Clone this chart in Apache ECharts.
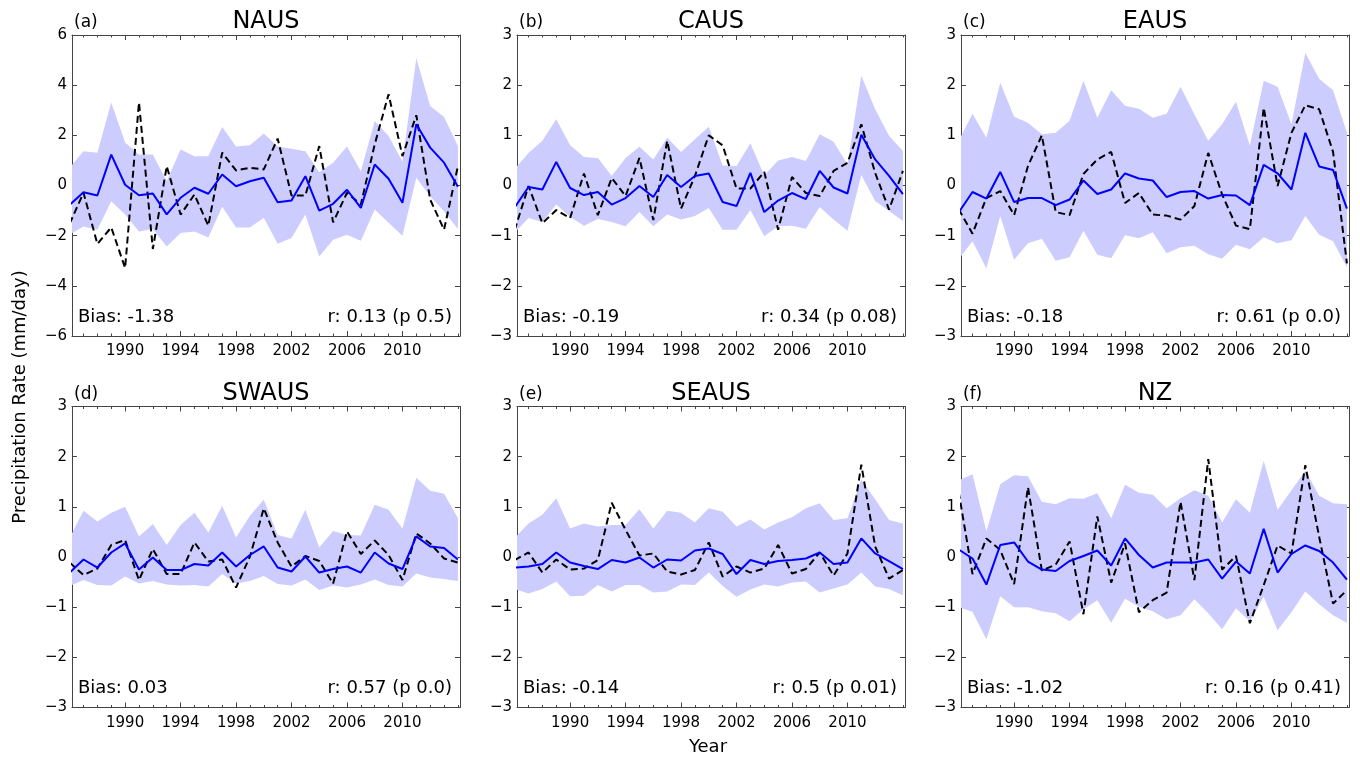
<!DOCTYPE html>
<html>
<head>
<meta charset="utf-8">
<title>Precipitation Rate</title>
<script src="https://cdn.jsdelivr.net/npm/echarts@6/dist/echarts.min.js"></script>
<style>
  html, body { margin: 0; padding: 0; background: #fff; }
  #chart { width: 1360px; height: 761px; }
</style>
</head>
<body>
<div id="chart"></div>
<script>
const years = [1986, 1987, 1988, 1989, 1990, 1991, 1992, 1993, 1994, 1995, 1996, 1997, 1998, 1999, 2000,
  2001, 2002, 2003, 2004, 2005, 2006, 2007, 2008, 2009, 2010, 2011, 2012, 2013, 2014];
const majorYears = [1990, 1994, 1998, 2002, 2006, 2010];

// NAUS
const nausModel = [-0.77, -0.27, -0.40, 1.23, 0.03, -0.39, -0.32, -1.15, -0.49, -0.09, -0.33, 0.44, -0.03, 0.17, 0.31,
  -0.67, -0.60, 0.37, -1.00, -0.73, -0.17, -0.89, 0.84, 0.27, -0.69, 2.44, 1.51, 0.91, -0.05];
const nausObs = [-1.52, -0.29, -2.33, -1.67, -3.29, 3.31, -2.53, 0.77, -1.16, -0.36, -1.60, 1.31, 0.60, 0.71, 0.64,
  1.87, -0.40, -0.40, 1.57, -1.47, -0.29, -0.76, 1.64, 3.64, 1.17, 2.80, -0.56, -1.76, 0.77];
const nausHi = [0.71, 1.37, 1.31, 3.31, 1.71, 1.24, 1.24, 0.17, 1.44, 1.17, 1.17, 2.33, 1.55, 1.60, 2.07,
  1.55, 1.47, 1.37, 0.53, 0.91, 1.55, 0.57, 2.57, 1.97, 0.95, 5.07, 3.17, 2.73, 1.57];
const nausLo = [-1.96, -1.63, -1.76, -0.63, -1.16, -1.83, -1.73, -2.43, -1.89, -1.83, -2.07, -0.85, -1.67, -1.67, -1.29,
  -2.32, -2.09, -1.16, -2.83, -2.16, -1.96, -2.20, -0.96, -1.49, -2.00, 0.31, -0.43, -1.03, -1.73];

// CAUS
const causModel = [-0.44, -0.03, -0.08, 0.47, -0.05, -0.19, -0.13, -0.38, -0.25, -0.01, -0.23, 0.21, -0.03, 0.19, 0.24,
  -0.33, -0.41, 0.25, -0.53, -0.30, -0.15, -0.27, 0.29, -0.04, -0.16, 1.01, 0.52, 0.19, -0.17];
const causObs = [-0.89, -0.01, -0.75, -0.49, -0.65, 0.24, -0.59, 0.15, -0.21, 0.55, -0.69, 0.89, -0.46, 0.19, 1.00,
  0.80, -0.06, -0.06, 0.27, -0.88, 0.17, -0.15, -0.21, 0.29, 0.45, 1.22, 0.25, -0.48, 0.29];
const causHi = [0.33, 0.65, 0.89, 1.32, 0.80, 0.57, 0.55, 0.19, 0.55, 0.77, 0.52, 0.95, 0.67, 0.92, 1.17,
  0.40, 0.39, 0.84, 0.20, 0.50, 0.57, 0.49, 1.02, 0.87, 0.42, 2.19, 1.52, 0.99, 0.69];
const causLo = [-0.94, -0.65, -0.73, -0.38, -0.63, -0.80, -0.67, -0.73, -0.81, -0.53, -0.81, -0.58, -0.68, -0.61, -0.45,
  -0.88, -0.88, -0.49, -1.01, -0.81, -0.80, -0.86, -0.43, -0.68, -0.90, 0.21, -0.31, -0.51, -0.71];

// EAUS
const eausModel = [-0.54, -0.13, -0.26, 0.27, -0.33, -0.25, -0.25, -0.39, -0.28, 0.10, -0.17, -0.08, 0.24, 0.14, 0.10,
  -0.23, -0.13, -0.11, -0.26, -0.19, -0.20, -0.39, 0.41, 0.24, -0.08, 1.05, 0.38, 0.31, -0.46];
const eausObs = [-0.47, -0.96, -0.25, -0.11, -0.59, 0.39, 1.00, -0.53, -0.59, 0.23, 0.52, 0.67, -0.35, -0.15, -0.58,
  -0.60, -0.68, -0.41, 0.65, -0.18, -0.80, -0.87, 1.55, -0.01, 1.05, 1.60, 1.52, 0.67, -1.55];
const eausHi = [0.89, 1.43, 0.95, 2.05, 1.37, 1.25, 1.02, 1.05, 1.29, 2.09, 1.35, 1.90, 1.59, 1.53, 1.35,
  1.43, 1.97, 1.42, 0.89, 1.22, 1.67, 0.79, 2.09, 1.97, 1.22, 2.64, 2.13, 1.90, 1.05];
const eausLo = [-1.47, -1.11, -1.65, -0.61, -1.48, -1.15, -1.06, -1.50, -1.43, -0.90, -1.38, -1.45, -0.99, -1.05, -0.93,
  -1.35, -1.23, -1.20, -1.37, -1.46, -1.18, -1.27, -1.03, -1.15, -1.09, -0.61, -0.98, -1.11, -1.63];

// SWAUS
const swausModel = [-0.31, -0.05, -0.21, 0.09, 0.27, -0.25, -0.01, -0.26, -0.26, -0.14, -0.17, 0.09, -0.19, 0.04, 0.21,
  -0.21, -0.29, 0.01, -0.31, -0.24, -0.19, -0.31, 0.09, -0.13, -0.24, 0.41, 0.21, 0.18, -0.05];
const swausObs = [-0.11, -0.36, -0.23, 0.24, 0.34, -0.46, 0.16, -0.34, -0.34, 0.29, -0.09, -0.05, -0.61, 0.01, 0.97,
  0.29, -0.19, 0.02, -0.08, -0.53, 0.51, 0.06, 0.33, 0.04, -0.46, 0.47, 0.27, -0.03, -0.11];
const swausHi = [0.38, 0.92, 0.71, 0.88, 1.00, 0.41, 0.66, 0.24, 0.64, 0.88, 0.49, 1.02, 0.39, 0.82, 1.14,
  0.44, 0.37, 0.94, 0.19, 0.52, 0.44, 0.43, 1.04, 0.94, 0.57, 1.58, 1.32, 1.26, 0.77];
const swausLo = [-0.58, -0.46, -0.56, -0.57, -0.39, -0.53, -0.48, -0.55, -0.57, -0.56, -0.59, -0.34, -0.53, -0.48, -0.38,
  -0.54, -0.57, -0.45, -0.66, -0.57, -0.61, -0.55, -0.45, -0.56, -0.59, -0.33, -0.41, -0.44, -0.48];

// SEAUS
const seausModel = [-0.21, -0.19, -0.14, 0.09, -0.11, -0.18, -0.24, -0.06, -0.11, -0.01, -0.21, -0.05, -0.07, 0.13, 0.17,
  0.06, -0.34, -0.06, -0.14, -0.08, -0.06, -0.03, 0.09, -0.14, -0.11, 0.37, 0.07, -0.08, -0.24];
const seausObs = [-0.06, 0.09, -0.31, -0.05, -0.25, -0.23, -0.06, 1.08, 0.54, 0.03, 0.07, -0.29, -0.35, -0.26, 0.29,
  -0.39, -0.19, -0.31, -0.23, 0.24, -0.33, -0.24, 0.09, -0.37, 0.07, 1.84, 0.21, -0.43, -0.26];
const seausHi = [0.38, 0.67, 0.84, 1.17, 0.57, 0.67, 0.61, 0.64, 0.64, 0.95, 0.57, 0.92, 0.88, 0.69, 0.97,
  0.90, 0.61, 0.75, 0.55, 0.69, 0.79, 0.97, 1.07, 0.74, 0.77, 1.54, 1.15, 0.74, 0.67];
const seausLo = [-0.64, -0.73, -0.64, -0.49, -0.78, -0.77, -0.56, -0.69, -0.56, -0.56, -0.71, -0.69, -0.55, -0.56, -0.31,
  -0.58, -0.79, -0.65, -0.55, -0.59, -0.51, -0.49, -0.71, -0.63, -0.55, -0.31, -0.59, -0.64, -0.76];

// NZ
const nzModel = [0.15, -0.03, -0.55, 0.24, 0.29, -0.09, -0.25, -0.28, -0.08, 0.02, 0.13, -0.17, 0.37, 0.04, -0.21,
  -0.11, -0.11, -0.11, -0.05, -0.43, -0.09, -0.33, 0.56, -0.31, 0.06, 0.23, 0.12, -0.11, -0.45];
const nzObs = [1.30, -0.34, 0.37, 0.14, -0.54, 1.39, -0.27, -0.15, 0.31, -1.14, 0.81, -0.51, 0.27, -1.10, -0.86,
  -0.71, 1.10, -0.46, 1.95, -0.25, 0.02, -1.32, -0.56, 0.23, 0.07, 1.83, 0.40, -0.93, -0.66];
const nzHi = [1.53, 1.65, 0.51, 1.45, 1.63, 1.61, 1.10, 1.05, 1.17, 1.16, 1.27, 0.77, 1.44, 1.28, 1.24,
  0.97, 1.17, 1.33, 1.22, 0.69, 1.15, 0.88, 1.92, 0.94, 1.33, 1.72, 1.22, 1.07, 1.05];
const nzLo = [-1.00, -1.09, -1.64, -0.78, -1.00, -1.00, -1.08, -1.12, -1.28, -1.04, -0.86, -1.31, -0.83, -0.99, -1.08,
  -1.24, -1.16, -0.84, -1.12, -1.44, -1.02, -1.28, -0.79, -1.46, -1.10, -0.69, -0.94, -1.16, -1.31];

const panels = [
  { tag: "(a)", name: "NAUS", model: nausModel, obs: nausObs, hi: nausHi, lo: nausLo, yMax: 6, yStep: 2, bias: "Bias: -1.38", corr: "r: 0.13 (p 0.5)" },
  { tag: "(b)", name: "CAUS", model: causModel, obs: causObs, hi: causHi, lo: causLo, yMax: 3, yStep: 1, bias: "Bias: -0.19", corr: "r: 0.34 (p 0.08)" },
  { tag: "(c)", name: "EAUS", model: eausModel, obs: eausObs, hi: eausHi, lo: eausLo, yMax: 3, yStep: 1, bias: "Bias: -0.18", corr: "r: 0.61 (p 0.0)" },
  { tag: "(d)", name: "SWAUS", model: swausModel, obs: swausObs, hi: swausHi, lo: swausLo, yMax: 3, yStep: 1, bias: "Bias: 0.03", corr: "r: 0.57 (p 0.0)" },
  { tag: "(e)", name: "SEAUS", model: seausModel, obs: seausObs, hi: seausHi, lo: seausLo, yMax: 3, yStep: 1, bias: "Bias: -0.14", corr: "r: 0.5 (p 0.01)" },
  { tag: "(f)", name: "NZ", model: nzModel, obs: nzObs, hi: nzHi, lo: nzLo, yMax: 3, yStep: 1, bias: "Bias: -1.02", corr: "r: 0.16 (p 0.41)" },
];

const FONT = '"DejaVu Sans", "Liberation Sans", sans-serif';
const FRAME = "#444";
const X_MIN = 1986.17, X_MAX = 2014.15;
const colLeft = [72, 517, 961];
const rowTop = [35, 406.5];
const W = 388, H = 301;
const minorYears = years.filter(y => y > X_MIN && y < X_MAX);

const fmtY = v => (v < 0 ? "\u2212" + (-v) : String(v));

const grids = [], xAxes = [], yAxes = [], series = [], texts = [];

panels.forEach((p, i) => {
  const left = colLeft[i % 3], top = rowTop[Math.floor(i / 3)];
  grids.push({ left: left, top: top, width: W, height: H });

  const xBase = { gridIndex: i, type: "value", min: X_MIN, max: X_MAX, splitLine: { show: false } };
  const lineOn = { show: true, onZero: false, lineStyle: { color: FRAME, width: 1 } };
  ["bottom", "top"].forEach(pos => {
    xAxes.push(Object.assign({}, xBase, {
      position: pos,
      axisLine: lineOn,
      axisTick: { show: true, inside: true, length: 5, customValues: majorYears, lineStyle: { color: FRAME } },
      axisLabel: pos === "bottom"
        ? { show: true, customValues: majorYears, formatter: v => String(v), fontSize: 15, fontFamily: FONT, color: "#000", margin: 8 }
        : { show: false },
    }));
    xAxes.push(Object.assign({}, xBase, {
      position: pos,
      axisLine: { show: false, onZero: false },
      axisTick: { show: true, inside: true, length: 2.5, customValues: minorYears, lineStyle: { color: FRAME } },
      axisLabel: { show: false },
    }));
  });

  const yBase = { gridIndex: i, type: "value", min: -p.yMax, max: p.yMax, interval: p.yStep, splitLine: { show: false } };
  yAxes.push(Object.assign({}, yBase, {
    position: "left",
    axisLine: lineOn,
    axisTick: { show: true, inside: true, length: 5, lineStyle: { color: FRAME } },
    axisLabel: { fontSize: 15, fontFamily: FONT, color: "#000", margin: 5, formatter: fmtY },
  }));
  yAxes.push(Object.assign({}, yBase, {
    position: "right",
    axisLine: lineOn,
    axisTick: { show: true, inside: true, length: 5, lineStyle: { color: FRAME } },
    axisLabel: { show: false },
  }));

  const ax = { xAxisIndex: i * 4, yAxisIndex: i * 2 };
  // model spread band, one polygon through the axis scales
  series.push(Object.assign({
    type: "custom", name: p.name + " spread", silent: true, z: 1,
    encode: { x: 0, y: [1, 2] },
    data: years.map((y, k) => [y, p.lo[k], p.hi[k]]),
    renderItem: (params, api) => {
      if (params.dataIndex !== 0) return null;
      const pts = [];
      years.forEach((y, k) => pts.push(api.coord([y, p.hi[k]])));
      for (let k = years.length - 1; k >= 0; k--) pts.push(api.coord([years[k], p.lo[k]]));
      const cs = params.coordSys;
      return {
        type: "polygon",
        shape: { points: pts },
        style: { fill: "#ccccff" },
        clipPath: { type: "rect", shape: { x: cs.x, y: cs.y, width: cs.width, height: cs.height } },
      };
    },
  }, ax));
  series.push(Object.assign({
    type: "line", name: p.name + " obs", symbol: "none", z: 3,
    lineStyle: { color: "#000", width: 2, type: [7, 4] },
    data: years.map((y, k) => [y, p.obs[k]]),
  }, ax));
  series.push(Object.assign({
    type: "line", name: p.name + " model", symbol: "none", z: 4,
    lineStyle: { color: "#0000ff", width: 2 },
    data: years.map((y, k) => [y, p.model[k]]),
  }, ax));

  const txt = (x, y, s, size, align) => ({
    type: "text", x: x, y: y, silent: true,
    style: { text: s, font: size + "px " + FONT, fill: "#000", textAlign: align, textVerticalAlign: "middle" },
  });
  texts.push(txt(left + 2, top - 12, p.tag, 17, "left"));
  texts.push(txt(left + W / 2, top - 13, p.name, 24, "center"));
  texts.push(txt(left + 6, top + H - 19, p.bias, 18, "left"));
  texts.push(txt(left + W - 8, top + H - 19, p.corr, 18, "right"));
});

texts.push({
  type: "text", x: 20, y: 397, rotation: Math.PI / 2, silent: true,
  style: { text: "Precipitation Rate (mm/day)", font: "18px " + FONT, fill: "#000", textAlign: "center", textVerticalAlign: "middle" },
});
texts.push({
  type: "text", x: 708, y: 747, silent: true,
  style: { text: "Year", font: "18px " + FONT, fill: "#000", textAlign: "center", textVerticalAlign: "middle" },
});

const chart = echarts.init(document.getElementById("chart"));
chart.setOption({
  animation: false,
  backgroundColor: "#fff",
  grid: grids,
  xAxis: xAxes,
  yAxis: yAxes,
  series: series,
  graphic: texts,
});
</script>
</body>
</html>
